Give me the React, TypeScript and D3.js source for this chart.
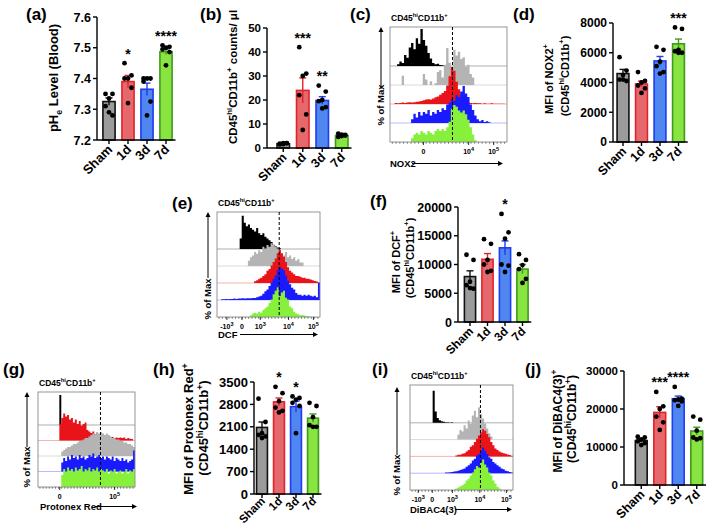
import React from 'react';
import * as d3 from 'd3';

const GROUPS = ['Sham', '1d', '3d', '7d'];
const FILL = ['#9b9b9b', '#e4686c', '#4f86f0', '#88e441'];
const STROKE = ['#111111', '#e3232a', '#1f3cf0', '#3f9a1c'];

// (a) pHe
const A_MEAN = [7.325, 7.39, 7.365, 7.487];
const A_SEM = [0.012, 0.02, 0.02, 0.009];
const A_DOTS = [
  [7.35, 7.35, 7.335, 7.31, 7.28, 7.29],
  [7.45, 7.41, 7.4, 7.4, 7.37, 7.32],
  [7.4, 7.4, 7.4, 7.39, 7.325, 7.28],
  [7.508, 7.503, 7.5, 7.495, 7.486, 7.443],
];
const A_STARS = ['', '*', '', '****'];
const A_TICKS = [7.2, 7.3, 7.4, 7.5, 7.6];

// (b) counts
const B_MEAN = [1.8, 24, 19.8, 5.2];
const B_SEM = [0.2, 5.2, 1.6, 0.3];
const B_DOTS = [
  [1.5, 2, 2, 1.8, 2, 1.6],
  [42, 31, 30, 22, 14, 7.5],
  [26, 23.5, 20, 19.5, 17, 16.5],
  [6, 5.5, 5, 4.6, 5.2, 5.6],
];
const B_STARS = ['', '***', '**', ''];
const B_TICKS = [0, 10, 20, 30, 40, 50];

// (d) NOX2
const D_MEAN = [4600, 3900, 5450, 6600];
const D_SEM = [280, 190, 300, 320];
const D_DOTS = [
  [5700, 4800, 4500, 4200, 4100, 4200],
  [4700, 4100, 4000, 3800, 3600, 3300],
  [6400, 6200, 5400, 5100, 4700, 4600],
  [7700, 7600, 6200, 6100, 6000, 6000],
];
const D_STARS = ['', '', '', '***'];
const D_TICKS = [0, 2000, 4000, 6000, 8000];

// (f) DCF
const F_MEAN = [7900, 10900, 12900, 9200];
const F_SEM = [1000, 1000, 1200, 800];
const F_DOTS = [
  [11700, 10800, 7000, 6400, 5800, 5900],
  [14400, 13600, 10800, 10000, 8900, 8700],
  [18800, 15600, 14500, 10000, 9800, 8700],
  [11800, 10800, 9900, 9200, 7500, 6800],
];
const F_STARS = ['', '', '*', ''];
const F_TICKS = [0, 5000, 10000, 15000, 20000];

// (h) Protonex Red
const H_MEAN = [2080, 2880, 2730, 2370];
const H_SEM = [170, 120, 170, 130];
const H_DOTS = [
  [2980, 2250, 1900, 1850, 1800, 1750],
  [3350, 3150, 2900, 2700, 2600, 2550],
  [3050, 3000, 2950, 2850, 2750, 1900],
  [2850, 2750, 2400, 2150, 2100, 2100],
];
const H_STARS = ['', '*', '*', ''];
const H_TICKS = [0, 700, 1400, 2100, 2800, 3500];

// (j) DiBAC4(3)
const J_MEAN = [11700, 19100, 22700, 14200];
const J_SEM = [400, 1500, 700, 1000];
const J_DOTS = [
  [12700, 12500, 12000, 11500, 11000, 10500],
  [24500, 20700, 20000, 18000, 16500, 14500],
  [25800, 22700, 22500, 22300, 22000, 20800],
  [18000, 17200, 14300, 12500, 12300, 12000],
];
const J_STARS = ['', '***', '****', ''];
const J_TICKS = [0, 10000, 20000, 30000];

// Flow histograms: channel 0..50 across the plot; values = fraction of max
const HC = { black: '#000000', gray: '#b4b4b4', red: '#e8141a', blue: '#1a1aff', green: '#86f03a' };

const C_HISTS = [
  { c: 'black', s: 3, v: [0.05, 0.12, 0.08, 0.3, 0.22, 0.5, 0.62, 0.45, 0.75, 0.6, 1.0, 0.7, 0.55, 0.35, 0.2, 0.08, 0.05, 0.06, 0.03, 0.02] },
  { c: 'gray', s: 5, v: [0.25, 0, 0, 0, 0, 0, 0, 0, 0, 0.3, 0.15, 0, 0.1, 0, 0.05, 0.35, 0.4, 0.2, 0.55, 1.0, 0.6, 0.45, 0.95, 0.8, 0.9, 0.7, 0.75, 0.5, 0.55, 0.3, 0.2] },
  { c: 'red', s: 2, v: [0.03, 0.02, 0.03, 0.04, 0.03, 0.04, 0.05, 0.04, 0.05, 0.06, 0.07, 0.08, 0.1, 0.12, 0.13, 0.12, 0.15, 0.18, 0.2, 0.25, 0.3, 0.35, 0.5, 0.75, 1.0, 0.9, 0.6, 0.4, 0.25, 0.12, 0.06, 0.04, 0.03, 0.02, 0.03, 0.02, 0.02, 0.01, 0.02, 0.01, 0.01, 0.02, 0.01, 0.01, 0.01, 0.01, 0.01] },
  { c: 'blue', s: 9, v: [0.1, 0.25, 0.15, 0.3, 0.2, 0.3, 0.25, 0.35, 0.2, 0.3, 0.25, 0.35, 0.3, 0.4, 0.35, 0.5, 0.55, 0.65, 0.6, 0.75, 0.7, 0.85, 1.0, 0.8, 0.7, 0.5, 0.35, 0.2, 0.1, 0.05, 0.08, 0.03, 0.05, 0.02] },
  { c: 'green', s: 9, v: [0.1, 0.2, 0.25, 0.2, 0.3, 0.25, 0.2, 0.3, 0.25, 0.2, 0.3, 0.35, 0.3, 0.35, 0.3, 0.4, 0.55, 0.9, 1.0, 0.95, 0.85, 0.8, 0.85, 0.75, 0.6, 0.4, 0.2, 0.05] },
];
const C_TICKS = [{ ch: 14.3, t: '0' }, { ch: 33.6, t: '10', e: '4' }, { ch: 44.3, t: '10', e: '5' }];
const C_GATE = 26.7;

const E_HISTS = [
  { c: 'black', s: 11, v: [0.3, 0.95, 0.75, 0.65, 0.7, 0.6, 0.55, 0.5, 0.6, 0.45, 0.4, 0.45, 0.35, 0.3, 0.25, 0.2, 0.12, 0.08, 0.04, 0.02] },
  { c: 'gray', s: 15, v: [0.15, 0.25, 0.3, 0.4, 0.35, 0.45, 0.4, 0.55, 0.5, 0.6, 0.55, 0.65, 0.6, 0.55, 0.5, 0.45, 0.35, 0.3, 0.4, 0.25, 0.3, 0.2, 0.25, 0.15, 0.2, 0.1, 0.1] },
  { c: 'red', s: 18, v: [0.05, 0.08, 0.12, 0.15, 0.2, 0.25, 0.35, 0.4, 0.5, 0.6, 0.7, 0.85, 0.95, 0.85, 0.75, 0.6, 0.45, 0.35, 0.3, 0.25, 0.2, 0.2, 0.18, 0.15, 0.15, 0.12, 0.12, 0.1, 0.08, 0.06, 0.04] },
  { c: 'blue', s: 2, v: [0.02, 0.02, 0.03, 0.02, 0.03, 0.03, 0.04, 0.03, 0.04, 0.04, 0.05, 0.04, 0.05, 0.05, 0.05, 0.06, 0.06, 0.08, 0.1, 0.12, 0.18, 0.25, 0.3, 0.4, 0.5, 0.6, 0.7, 0.85, 0.95, 0.9, 0.85, 0.7, 0.55, 0.45, 0.35, 0.3, 0.2, 0.15, 0.15, 0.12, 0.15, 0.12, 0.15, 0.12, 0.1, 0.12, 0.08, 0.5] },
  { c: 'green', s: 16, v: [0.05, 0.1, 0.12, 0.1, 0.15, 0.12, 0.2, 0.25, 0.3, 0.4, 0.5, 0.65, 0.75, 0.85, 0.6, 0.7, 0.75, 0.55, 0.5, 0.3, 0.25, 0.15, 0.1, 0.08, 0.05, 0.06, 0.04, 0.03, 0.02] },
];
const E_TICKS = [{ ch: 4.8, t: '-10', e: '3' }, { ch: 12.1, t: '0' }, { ch: 21, t: '10', e: '3' }, { ch: 34.7, t: '10', e: '4' }, { ch: 46.8, t: '10', e: '5' }];
const E_GATE = 30.2;

const G_HISTS = [
  { c: 'black', s: 11, v: [1.0] },
  { c: 'red', s: 11, v: [0.55, 0.75, 0.9, 0.8, 0.85, 0.7, 0.75, 0.6, 0.7, 0.55, 0.65, 0.5, 0.55, 0.6, 0.35, 0.3, 0.25, 0.3, 0.2, 0.25, 0.2, 0.15, 0.2, 0.15, 0.1, 0.15, 0.1, 0.12, 0.08, 0.1, 0.08, 0.1, 0.08, 0.1, 0.05, 0.08, 0.06, 0.05] },
  { c: 'gray', s: 12, v: [0.15, 0.2, 0.25, 0.3, 0.3, 0.35, 0.4, 0.4, 0.45, 0.5, 0.5, 0.55, 0.6, 0.6, 0.65, 0.7, 0.75, 0.7, 0.8, 0.75, 0.8, 0.75, 0.7, 0.75, 0.7, 0.65, 0.6, 0.6, 0.55, 0.55, 0.5, 0.5, 0.45, 0.45, 0.4, 0.4, 0.35, 0.3] },
  { c: 'blue', s: 12, v: [0.3, 0.45, 0.35, 0.5, 0.4, 0.55, 0.45, 0.5, 0.4, 0.55, 0.45, 0.5, 0.4, 0.45, 0.55, 0.5, 0.6, 0.45, 0.5, 0.55, 0.45, 0.5, 0.4, 0.5, 0.45, 0.4, 0.5, 0.35, 0.45, 0.4, 0.35, 0.45, 0.35, 0.4, 0.3, 0.35, 0.4, 0.7] },
  { c: 'green', s: 12, v: [0.4, 0.6, 0.5, 0.65, 0.55, 0.6, 0.5, 0.65, 0.55, 0.6, 0.7, 0.5, 0.6, 0.55, 0.65, 0.5, 0.6, 0.55, 0.65, 0.5, 0.6, 0.55, 0.5, 0.6, 0.45, 0.55, 0.5, 0.6, 0.45, 0.5, 0.55, 0.45, 0.5, 0.6, 0.45, 0.55, 0.5, 0.6] },
];
const G_TICKS = [{ ch: 11.2, t: '0' }, { ch: 39.5, t: '10', e: '5' }];
const G_GATE = 32.2;

const I_HISTS = [
  { c: 'black', s: 11, v: [1.0, 0.35, 0.15, 0.08, 0.05, 0.03, 0.02, 0.02, 0.01, 0.02] },
  { c: 'gray', s: 23, v: [0.15, 0.3, 0.25, 0.45, 0.35, 0.6, 0.5, 0.75, 0.9, 0.7, 1.0, 0.8, 0.65, 0.5, 0.35, 0.2, 0.1] },
  { c: 'red', s: 22, v: [0.03, 0.05, 0.05, 0.08, 0.1, 0.15, 0.2, 0.3, 0.35, 0.45, 0.55, 0.65, 0.75, 0.85, 0.8, 0.7, 0.6, 0.45, 0.35, 0.25, 0.2, 0.15, 0.12, 0.1, 0.08, 0.06, 0.04, 0.02] },
  { c: 'blue', s: 17, v: [0.02, 0.02, 0.03, 0.04, 0.05, 0.06, 0.08, 0.1, 0.12, 0.15, 0.2, 0.25, 0.3, 0.4, 0.45, 0.55, 0.6, 0.7, 0.8, 0.7, 0.6, 0.5, 0.45, 0.35, 0.3, 0.25, 0.2, 0.15, 0.12, 0.08, 0.06, 0.04, 0.02] },
  { c: 'green', s: 22, v: [0.05, 0.08, 0.12, 0.15, 0.2, 0.3, 0.35, 0.45, 0.55, 0.65, 0.75, 0.7, 0.85, 0.95, 0.8, 0.7, 0.55, 0.45, 0.3, 0.2, 0.1, 0.05] },
];
const I_TICKS = [{ ch: 4, t: '-10', e: '3' }, { ch: 10.8, t: '0' }, { ch: 20.6, t: '10', e: '3' }, { ch: 33.9, t: '10', e: '4' }, { ch: 46.8, t: '10', e: '5' }];
const I_GATE = 34.2;

const FONT = "'Liberation Sans', Arial, sans-serif";

type Part = [string, 'n' | 'sup' | 'sub'];
function rich(parts: Part[], fs: number) {
  let shift = 0;
  return parts.map(([t, k], i) => {
    const target = k === 'sup' ? -0.42 * fs : k === 'sub' ? 0.28 * fs : 0;
    const dy = target - shift;
    shift = target;
    return (
      <tspan key={i} dy={dy} fontSize={k === 'n' ? fs : fs * 0.68}>
        {t}
      </tspan>
    );
  });
}

const CD: Part[] = [['(CD45', 'n'], ['hi', 'sup'], ['CD11b', 'n'], ['+', 'sup'], [')', 'n']];

const DOT_OFF = [-3.5, 3.5, 0, -3.5, 3.5, 0];

function BarPanel(p: any) {
  const y = d3.scaleLinear().domain(p.domain).range([p.yB, p.yT]);
  const x = d3.scaleBand().domain(GROUPS).range(p.band).paddingInner(0.36).paddingOuter(0.18);
  const bw = x.bandwidth();
  return (
    <g fontFamily={FONT} fontWeight="bold">
      {GROUPS.map((g, i) => {
        const cx = (x(g) as number) + bw / 2;
        const m = p.means[i];
        const s = p.sems[i];
        return (
          <g key={g}>
            <rect x={x(g)} y={y(m)} width={bw} height={p.yB - y(m)} fill={FILL[i]} stroke={STROKE[i]} strokeWidth={1.6} />
            <line x1={cx} x2={cx} y1={y(m - s)} y2={y(m + s)} stroke={STROKE[i]} strokeWidth={1.4} />
            <line x1={cx - 3.5} x2={cx + 3.5} y1={y(m + s)} y2={y(m + s)} stroke={STROKE[i]} strokeWidth={1.4} />
            {p.dots[i].map((v: number, k: number) => (
              <circle key={k} cx={cx + DOT_OFF[k]} cy={y(v)} r={2.4} fill="#000" />
            ))}
            {p.stars[i] ? (
              <text x={cx} y={y(d3.max(p.dots[i]) as number) - 4.5} textAnchor="middle" fontSize={14}>
                {p.stars[i]}
              </text>
            ) : null}
            <line x1={cx} x2={cx} y1={p.yB} y2={p.yB + 4} stroke="#000" strokeWidth={1.4} />
            <text transform={`translate(${cx + 1},${p.yB + (p.xOff ?? 7)}) rotate(-45)`} textAnchor="end" dy="0.35em" fontSize={p.xFs}>
              {g}
            </text>
          </g>
        );
      })}
      <line x1={p.axisX} x2={p.axisX} y1={p.yB} y2={p.yT} stroke="#000" strokeWidth={1.4} />
      <line x1={p.axisX} x2={p.band[1]} y1={p.yB} y2={p.yB} stroke="#000" strokeWidth={1.4} />
      {p.ticks.map((t: number) => (
        <g key={t}>
          <line x1={p.axisX - 4} x2={p.axisX} y1={y(t)} y2={y(t)} stroke="#000" strokeWidth={1.4} />
          <text x={p.axisX - 6} y={y(t)} dy="0.36em" textAnchor="end" fontSize={p.tickFs}>
            {p.fmt ? p.fmt(t) : String(t)}
          </text>
        </g>
      ))}
      {p.labels.map((l: any, i: number) => (
        <text key={i} transform={`translate(${l.x},${l.y}) rotate(-90)`} textAnchor="middle" dy="0.36em" fontSize={l.fs}>
          {rich(l.parts, l.fs)}
        </text>
      ))}
    </g>
  );
}

function FlowPanel(p: any) {
  const x = d3.scaleLinear().domain([0, 50]).range([p.x0, p.x1]);
  const baseOf = (r: number) => p.y1 - (4 - r) * p.sp;
  const lightCol: any = { black: '#9a9a9a', gray: '#d0d0d0', red: '#f2a0a0', blue: '#a8a8ff', green: '#c8f8a8' };
  const minor = d3.range(1, 50, 1.6);
  return (
    <g fontFamily={FONT} fontWeight="bold">
      {p.hists.map((h: any, r: number) => {
        const b = baseOf(r);
        return r < 4 ? <line key={'l' + r} x1={p.x0} x2={p.x1} y1={b} y2={b} stroke={lightCol[h.c]} strokeWidth={0.8} /> : null;
      })}
      {p.hists.map((h: any, r: number) => {
        const b = baseOf(r);
        const pts: [number, number][] = h.v.map((v: number, i: number) => [h.s + i, v]);
        pts.push([h.s + h.v.length, 0]);
        const area = d3
          .area<[number, number]>()
          .x((d) => x(d[0]))
          .y0(b)
          .y1((d) => b - d[1] * p.hmax)
          .curve(d3.curveStepAfter);
        return <path key={r} d={area(pts) as string} fill={HC[h.c as keyof typeof HC]} />;
      })}
      <rect x={p.x0} y={p.y0} width={p.x1 - p.x0} height={p.y1 - p.y0} fill="none" stroke="#8a8a8a" strokeWidth={0.9} />
      <line x1={x(p.gate)} x2={x(p.gate)} y1={p.y0} y2={p.y1} stroke="#000" strokeWidth={1} strokeDasharray="3,2" />
      {minor.map((m: number, i: number) => (
        <line key={i} x1={x(m)} x2={x(m)} y1={p.y1} y2={p.y1 + 1.8} stroke="#333" strokeWidth={0.6} />
      ))}
      {p.ticks.map((t: any, i: number) => (
        <g key={i}>
          <line x1={x(t.ch)} x2={x(t.ch)} y1={p.y1} y2={p.y1 + 3} stroke="#000" strokeWidth={0.8} />
          <text x={x(t.ch)} y={p.y1 + 12} textAnchor="middle" fontSize={7}>
            {t.t}
            {t.e ? (
              <tspan dy={-3} fontSize={5.5}>
                {t.e}
              </tspan>
            ) : null}
          </text>
        </g>
      ))}
      <text x={p.x0 + 1} y={p.y0 - 6} fontSize={8.5}>
        {rich([['CD45', 'n'], ['hi', 'sup'], ['CD11b', 'n'], ['+', 'sup']], 8.5)}
      </text>
      <text x={p.xl} y={p.xly} fontSize={9.5}>
        {p.xlabel}
      </text>
      <line x1={p.xa0} x2={p.xa1 - 4} y1={p.xly - 3.5} y2={p.xly - 3.5} stroke="#000" strokeWidth={1} />
      <path d={`M${p.xa1},${p.xly - 3.5} l-5,-2.5 l0,5 z`} fill="#000" />
      <text transform={`translate(${p.yl},${p.ylc}) rotate(-90)`} textAnchor="middle" dy="0.36em" fontSize={9.5}>
        % of Max
      </text>
      <line x1={p.yl} x2={p.yl} y1={p.ya0} y2={p.ya1 + 4} stroke="#000" strokeWidth={1} />
      <path d={`M${p.yl},${p.ya1} l-2.5,5 l5,0 z`} fill="#000" />
    </g>
  );
}

function PanelLabel({ x, y, t }: any) {
  return (
    <text x={x} y={y} fontFamily={FONT} fontWeight="bold" fontSize={17}>
      {t}
    </text>
  );
}

export default function App() {
  return (
    <svg width={709} height={528} style={{ position: 'absolute', left: 0, top: 0, background: '#fff' }}>
      <rect width={709} height={528} fill="#fff" />
      <PanelLabel x={26} y={20} t="(a)" />
      <PanelLabel x={200} y={20} t="(b)" />
      <PanelLabel x={350} y={20} t="(c)" />
      <PanelLabel x={513} y={20} t="(d)" />
      <PanelLabel x={172} y={209} t="(e)" />
      <PanelLabel x={370} y={207} t="(f)" />
      <PanelLabel x={3} y={375} t="(g)" />
      <PanelLabel x={153} y={375} t="(h)" />
      <PanelLabel x={372} y={375} t="(i)" />
      <PanelLabel x={525} y={375} t="(j)" />

      <BarPanel
        axisX={97} yB={140} yT={17} domain={[7.2, 7.6]} ticks={A_TICKS} fmt={(t: number) => t.toFixed(1)}
        band={[99.5, 175.5]} means={A_MEAN} sems={A_SEM} dots={A_DOTS} stars={A_STARS} tickFs={12.5} xFs={13}
        labels={[{ x: 58, y: 78, fs: 13, parts: [['pH', 'n'], ['e', 'sub'], [' Level (Blood)', 'n']] }]}
      />
      <BarPanel
        axisX={267} yB={148} yT={28} domain={[0, 50]} ticks={B_TICKS}
        band={[273.5, 351.5]} means={B_MEAN} sems={B_SEM} dots={B_DOTS} stars={B_STARS} tickFs={11.5} xFs={12.5}
        labels={[{ x: 237, y: 77, fs: 11.5, parts: [['CD45', 'n'], ['hi', 'sup'], ['CD11b', 'n'], ['+', 'sup'], [' counts/ μl', 'n']] }]}
      />
      <BarPanel
        axisX={613} yB={142} yT={23} domain={[0, 8000]} ticks={D_TICKS}
        band={[613.75, 687.75]} means={D_MEAN} sems={D_SEM} dots={D_DOTS} stars={D_STARS} tickFs={12} xFs={12.5}
        labels={[
          { x: 553, y: 79, fs: 11, parts: [['MFI of NOX2', 'n'], ['+', 'sup']] },
          { x: 569, y: 76, fs: 11, parts: CD },
        ]}
      />
      <BarPanel
        axisX={458} yB={322} yT={207} domain={[0, 20000]} ticks={F_TICKS}
        band={[461.25, 531.25]} means={F_MEAN} sems={F_SEM} dots={F_DOTS} stars={F_STARS} tickFs={12.5} xFs={12}
        labels={[
          { x: 400, y: 262, fs: 11, parts: [['MFI of DCF', 'n'], ['+', 'sup']] },
          { x: 414, y: 258, fs: 11, parts: CD },
        ]}
      />
      <BarPanel
        axisX={254} yB={494} yT={382} domain={[0, 3500]} ticks={H_TICKS}
        band={[253.5, 321.5]} means={H_MEAN} sems={H_SEM} dots={H_DOTS} stars={H_STARS} tickFs={13} xFs={11.5} xOff={5}
        labels={[
          { x: 193, y: 429, fs: 13, parts: [['MFI of Protonex Red', 'n'], ['+', 'sup']] },
          { x: 208, y: 428, fs: 13, parts: CD },
        ]}
      />
      <BarPanel
        axisX={624} yB={485} yT={371} domain={[0, 30000]} ticks={J_TICKS}
        band={[632, 706]} means={J_MEAN} sems={J_SEM} dots={J_DOTS} stars={J_STARS} tickFs={11.5} xFs={12.5}
        labels={[
          { x: 562, y: 421, fs: 12, parts: [['MFI of DiBAC4(3)', 'n'], ['+', 'sup']] },
          { x: 576, y: 419, fs: 12, parts: CD },
        ]}
      />

      <FlowPanel
        x0={390} x1={507} y0={27} y1={142} sp={19} hmax={37} hists={C_HISTS} ticks={C_TICKS} gate={C_GATE}
        xlabel="NOX2" xl={390} xly={167} xa0={412} xa1={503} yl={381} ylc={105} ya0={89} ya1={27}
      />
      <FlowPanel
        x0={217} x1={320} y0={212} y1={317} sp={17} hmax={35} hists={E_HISTS} ticks={E_TICKS} gate={E_GATE}
        xlabel="DCF" xl={218} xly={338} xa0={240} xa1={318} yl={208} ylc={299} ya0={278} ya1={212}
      />
      <FlowPanel
        x0={38} x1={135} y0={392} y1={487} sp={15.5} hmax={30} hists={G_HISTS} ticks={G_TICKS} gate={G_GATE}
        xlabel="Protonex Red" xl={40} xly={510} xa0={95} xa1={137} yl={27} ylc={467} ya0={447} ya1={392}
      />
      <FlowPanel
        x0={410} x1={513} y0={385} y1={490} sp={16.8} hmax={32} hists={I_HISTS} ticks={I_TICKS} gate={I_GATE}
        xlabel="DiBAC4(3)" xl={410} xly={513} xa0={455} xa1={512} yl={397} ylc={475} ya0={455} ya1={387}
      />
    </svg>
  );
}
